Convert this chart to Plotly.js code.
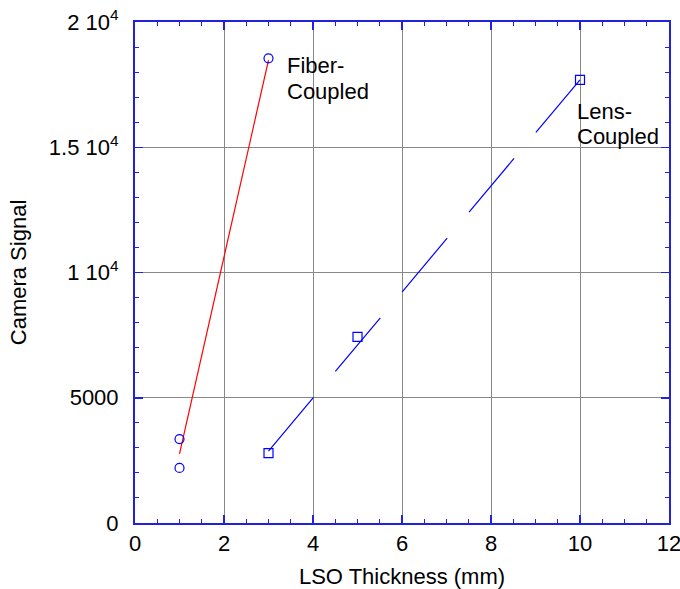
<!DOCTYPE html>
<html>
<head>
<meta charset="utf-8">
<script src="https://cdn.plot.ly/plotly-3.0.1.min.js"></script>
<style>html,body{margin:0;padding:0;background:#fff;}#chart{width:680px;height:589px;}</style>
</head>
<body>
<div id="chart"></div>
<script>
// Data
const fiberX = [1, 1, 3];
const fiberY = [3350, 2200, 18550];
const fiberFitX = [1, 3];
const fiberFitY = [2760, 18480];
const lensX = [3, 5, 10];
const lensY = [2790, 7430, 17690];
const lensFitX = [3, 10];
const lensFitY = [2870, 17690];
const yTickVals = [0, 5000, 10000, 15000, 20000];
const yTickText = ['0', '5000', '1 10<sup>4</sup>', '1.5 10<sup>4</sup>', '2 10<sup>4</sup>'];
const xTickVals = [0, 2, 4, 6, 8, 10, 12];
const labelLines = [
  {text: 'Fiber-', x: 3.39, y: 18250},
  {text: 'Coupled', x: 3.39, y: 17240},
  {text: 'Lens-', x: 9.91, y: 16430},
  {text: 'Coupled', x: 9.91, y: 15420}
];

const FONT = 'Liberation Sans, Arial, sans-serif';
const FS = 22;
const AXIS_BLUE = '#2222dd';

const traces = [
  {x: fiberFitX, y: fiberFitY, mode: 'lines', line: {color: '#ff0000', width: 1.2}, hoverinfo: 'skip'},
  {x: fiberX, y: fiberY, mode: 'markers', marker: {symbol: 'circle-open', size: 9, color: '#0000ff', line: {width: 1.2, color: '#0000ff'}}},
  {x: lensFitX, y: lensFitY, mode: 'lines', line: {color: '#0000ff', width: 1.2, dash: '70px,34px'}, hoverinfo: 'skip'},
  {x: lensX, y: lensY, mode: 'markers', marker: {symbol: 'square-open', size: 9, color: '#0000ff', line: {width: 1.2, color: '#0000ff'}}}
];

const layout = {
  width: 680, height: 589,
  margin: {l: 135, r: 11, t: 22, b: 66},
  showlegend: false,
  paper_bgcolor: '#ffffff', plot_bgcolor: '#ffffff',
  font: {family: FONT, size: FS, color: '#000'},
  xaxis: {
    range: [0, 12], tickvals: xTickVals, ticktext: xTickVals.map(String),
    showline: true, linecolor: AXIS_BLUE, linewidth: 2, mirror: 'allticks',
    ticks: 'inside', ticklen: 8, tickwidth: 1.5, tickcolor: AXIS_BLUE,
    showgrid: true, gridcolor: '#888888', gridwidth: 1, zeroline: false,
    minor: {dtick: 0.5, ticks: 'inside', ticklen: 4, tickwidth: 1, tickcolor: AXIS_BLUE, showgrid: false},
    tickfont: {size: FS, family: FONT},
    ticklabeloverflow: 'allow',
    title: {text: 'LSO Thickness (mm)', font: {size: FS, family: FONT}, standoff: 13}
  },
  yaxis: {
    range: [0, 20000], tickvals: yTickVals, ticktext: yTickText,
    showline: true, linecolor: AXIS_BLUE, linewidth: 2, mirror: 'allticks',
    ticks: 'inside', ticklen: 8, tickwidth: 1.5, tickcolor: AXIS_BLUE,
    showgrid: true, gridcolor: '#888888', gridwidth: 1, zeroline: false,
    minor: {dtick: 1000, ticks: 'inside', ticklen: 4, tickwidth: 1, tickcolor: AXIS_BLUE, showgrid: false},
    tickfont: {size: FS, family: FONT},
    ticklabelstandoff: 10,
    ticklabeloverflow: 'allow',
    title: {text: 'Camera Signal', font: {size: FS, family: FONT}, standoff: 16}
  },
  annotations: labelLines.map(l => ({
    x: l.x, y: l.y, xref: 'x', yref: 'y', text: l.text, showarrow: false,
    xanchor: 'left', yanchor: 'middle', align: 'left', borderpad: 0,
    font: {size: FS, family: FONT}
  }))
};

Plotly.newPlot('chart', traces, layout, {displayModeBar: false, staticPlot: true});
</script>
</body>
</html>
